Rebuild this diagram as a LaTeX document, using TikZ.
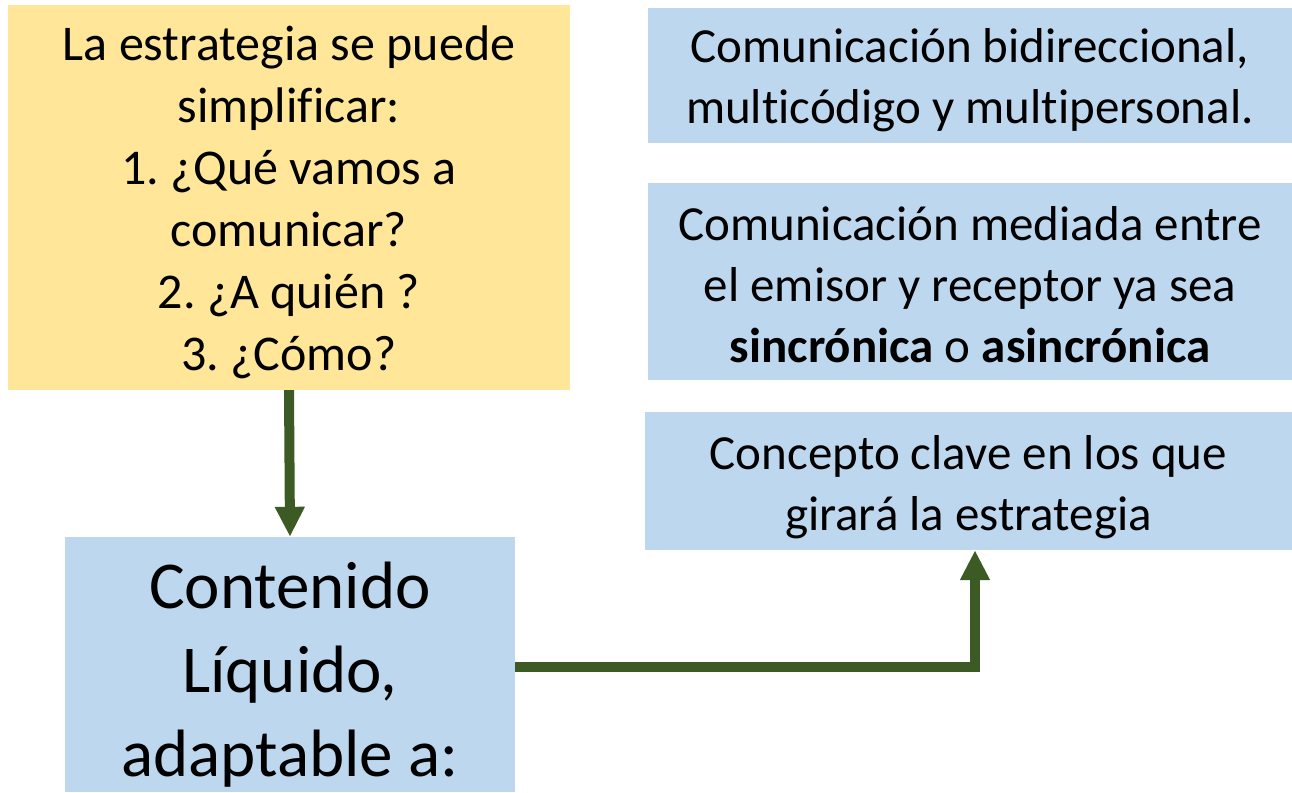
\documentclass[tikz,border=0pt]{standalone}
\usepackage{fontspec}
\setmainfont{Carlito}[Ligatures=NoCommon]
\usetikzlibrary{arrows.meta}
\definecolor{ybox}{HTML}{FFE699}
\definecolor{bbox}{HTML}{BDD7EE}
\definecolor{arr}{HTML}{3B5A24}
\frenchspacing
\begin{document}
\begin{tikzpicture}[x=1pt,y=-1pt,
  boxy/.style={fill=ybox,draw=none,inner sep=0pt},
  boxb/.style={fill=bbox,draw=none,inner sep=0pt},
  txt/.style={align=center,inner sep=0pt},
  conn/.style={draw=arr,line width=10pt,-{Triangle[length=30pt,width=28pt]}}]
\useasboundingbox (0,0) rectangle (1292,792);
\node[boxy,minimum width=562pt,minimum height=385pt] (ystrat) at (289,197.5) {};
\node[txt,font=\fontsize{50}{62}\selectfont] (ytxt) at ([yshift=-5pt]ystrat.center)
  {La estrategia se puede\\simplificar:\\1. ¿Qué vamos a\\comunicar?\\2. ¿A quién ?\\3. ¿Cómo?};
\node[boxb,minimum width=450pt,minimum height=255pt] (cont) at (290,664.5) {};
\node[txt,font=\fontsize{67}{84}\selectfont] (ctxt) at ([yshift=-10pt]cont.center)
  {Contenido\\Líquido,\\adaptable a:};
\node[boxb,minimum width=644pt,minimum height=135pt] (b1) at (970,75.5) {};
\node[txt,font=\fontsize{49}{61}\selectfont] (t1) at ([yshift=-5pt]b1.center)
  {Comunicación bidireccional,\\multicódigo y multipersonal.};
\node[boxb,minimum width=644pt,minimum height=197pt] (b2) at (970,281.5) {};
\node[txt,font=\fontsize{49}{61}\selectfont] (t2) at ([yshift=-3pt]b2.center)
  {Comunicación mediada entre\\el emisor y receptor ya sea\\\textbf{sincrónica} o \textbf{asincrónica}};
\node[boxb,minimum width=647pt,minimum height=138pt] (b3) at (968.5,481) {};
\node[txt,font=\fontsize{49}{61}\selectfont] (t3) at ([yshift=-6pt]b3.center)
  {Concepto clave en los que\\girará la estrategia};
\draw[conn] (ystrat.south) -- (cont.north);
\coordinate (b3in) at ([xshift=6.5pt]b3.south);
\draw[conn] ([yshift=-2.5pt]cont.east) -| (b3in);
\end{tikzpicture}
\end{document}
